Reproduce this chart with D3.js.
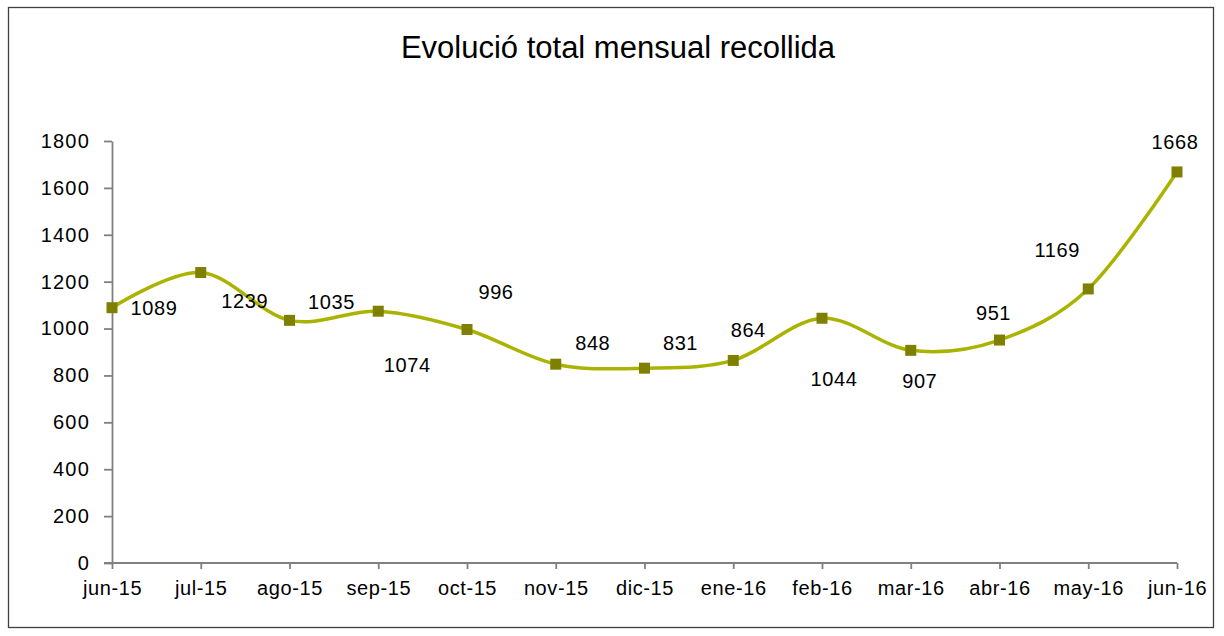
<!DOCTYPE html>
<html lang="ca">
<head>
<meta charset="UTF-8">
<title>Evolució total mensual recollida</title>
<script src="https://d3js.org/d3.v7.min.js"></script>
<style>
    * { margin: 0; padding: 0; }
    body { background: #fff; }
    text { font-family: "Liberation Sans", Arial, sans-serif; fill: #000; }
</style>
</head>
<body>
<svg width="1224" height="636"></svg>
<script>
    // dades
    var months = ["jun-15", "jul-15", "ago-15", "sep-15", "oct-15", "nov-15", "dic-15",
        "ene-16", "feb-16", "mar-16", "abr-16", "may-16", "jun-16"];
    var values = [1089, 1239, 1035, 1074, 996, 848, 831, 864, 1044, 907, 951, 1169, 1668];
    var yTicks = [0, 200, 400, 600, 800, 1000, 1200, 1400, 1600, 1800];

    // desplaçament de cada etiqueta respecte al punt (com a l'original)
    var labelDx = [42, 44, 42, 29, 29, 37, 36, 15, 12, 9, -6, -31, -2];
    var labelDy = [0, 28, -18, 54, -37, -21, -25, -30, 61, 31, -27, -39, -30];

    (function () {
        var svg = d3.select("svg");
        var mLeft = 112, mRight = 1177, mTop = 141, mBottom = 563;

        svg.append("rect")
            .attr("x", 8.5).attr("y", 7.5)
            .attr("width", 1205).attr("height", 620)
            .attr("fill", "none").attr("stroke", "#404040").attr("stroke-width", 1.3);

        svg.append("text")
            .attr("x", 618).attr("y", 58)
            .attr("text-anchor", "middle")
            .style("font-size", "31px")
            .text("Evolució total mensual recollida");

        var x = d3.scalePoint().domain(months).range([mLeft, mRight]);
        var y = d3.scaleLinear().domain([0, 1800]).range([mBottom, mTop]);

        var gy = svg.append("g")
            .attr("transform", "translate(" + mLeft + ",0)")
            .call(d3.axisLeft(y).tickValues(yTicks).tickFormat(d3.format("d"))
                .tickSize(8).tickPadding(14).tickSizeOuter(0));
        var gx = svg.append("g")
            .attr("transform", "translate(0," + mBottom + ")")
            .call(d3.axisBottom(x).tickSize(6).tickPadding(12).tickSizeOuter(0));

        [gx, gy].forEach(function (g) {
            g.select(".domain").attr("stroke", "#808080").attr("stroke-width", 1.8);
            g.selectAll(".tick line").attr("stroke", "#808080").attr("stroke-width", 1.8);
            g.selectAll("text")
                .style("font-family", '"Liberation Sans", Arial, sans-serif')
                .style("font-size", "20px")
                .style("letter-spacing", "0.6px")
                .attr("fill", "#000");
        });
        gy.selectAll("text").style("letter-spacing", "1.2px");
        // la línia del zero s'allarga cap a l'esquerra
        gx.select(".domain").attr("d", "M" + (mLeft - 8) + ",0H" + mRight);

        var line = d3.line()
            .x(function (d, i) { return x(months[i]); })
            .y(function (d) { return y(d); })
            .curve(d3.curveCatmullRom.alpha(0));

        svg.append("path")
            .datum(values)
            .attr("d", line)
            .attr("fill", "none")
            .attr("stroke", "#aab400")
            .attr("stroke-width", 3.5);

        svg.selectAll(".marker")
            .data(values)
            .enter()
            .append("rect")
            .attr("class", "marker")
            .attr("x", function (d, i) { return x(months[i]) - 5.5; })
            .attr("y", function (d) { return y(d) - 5.5; })
            .attr("width", 11).attr("height", 11)
            .attr("fill", "#808000");

        svg.selectAll(".lbl")
            .data(values)
            .enter()
            .append("text")
            .attr("class", "lbl")
            .attr("x", function (d, i) { return x(months[i]) + labelDx[i]; })
            .attr("y", function (d, i) { return y(d) + labelDy[i]; })
            .attr("dy", "0.35em")
            .attr("text-anchor", "middle")
            .style("font-size", "20px")
            .style("letter-spacing", "0.6px")
            .text(function (d) { return d; });
    })();
</script>
</body>
</html>
